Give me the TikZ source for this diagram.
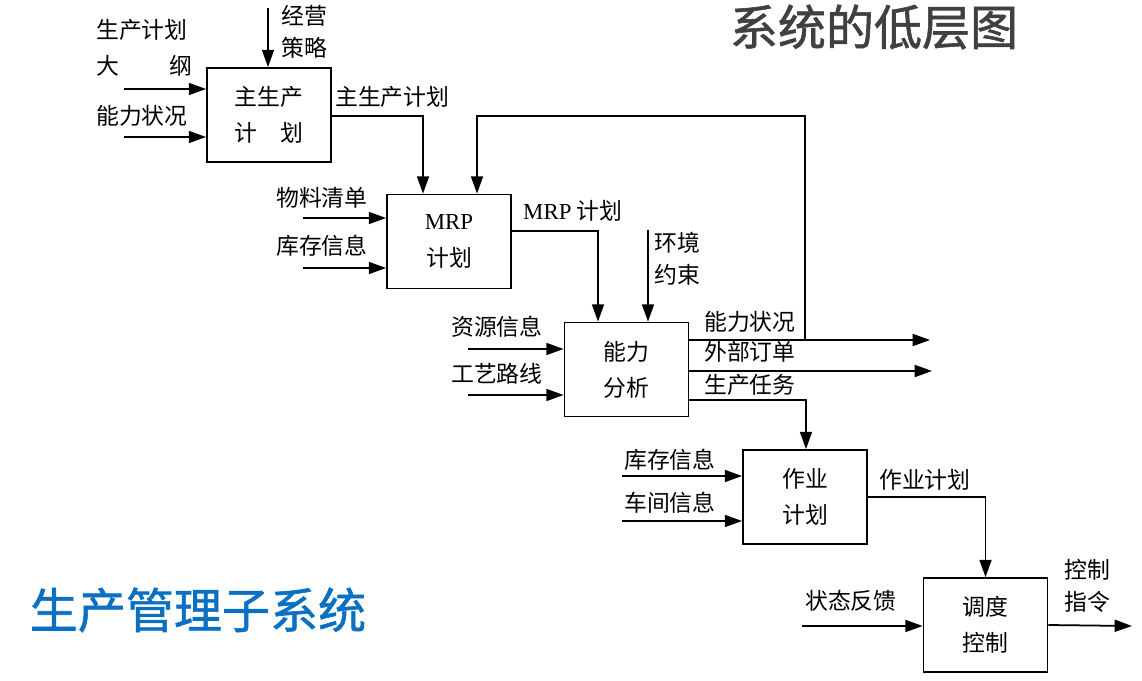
\documentclass[tikz,border=0pt]{standalone}
\usepackage{fontspec}
\setmainfont{Noto Sans CJK SC}
\newfontfamily\latin{Liberation Serif}
\newfontfamily\titlefont[FakeBold=1.2]{Noto Sans CJK SC}
\usetikzlibrary{arrows.meta,positioning,calc}
\definecolor{titlegray}{HTML}{404040}
\definecolor{titleblue}{HTML}{0B70C2}
\tikzstyle{block} = [rectangle, draw=black, line width=1.5pt, minimum width=3.72cm, minimum height=2.82cm, align=center, inner sep=0pt, font=\fontsize{19.5}{31}\selectfont]
\tikzstyle{arrow} = [line width=1.5pt, -{Triangle[length=0.52cm, width=0.36cm]}]
\tikzstyle{lbl} = [anchor=west, inner sep=0pt, align=left, font=\fontsize{19.5}{27}\selectfont]
\tikzstyle{title} = [inner sep=0pt, font=\titlefont\fontsize{41}{41}\selectfont]

\begin{document}
\begin{tikzpicture}[x=0.03cm, y=-0.03cm]
    \useasboundingbox (0,0) rectangle (1142,681);
    % titles
    \node[title, text=titlegray] (t_low) at (874,27) {系统的低层图};
    \node[title, text=titleblue] (t_sub) at (198,610) {生产管理子系统};

    % blocks
    \node[block] (mps) at (269,115) {主生产\\计　划};
    \node[block] (mrp) at (449,241.5) {{\latin MRP}\\计划};
    \node[block] (cap) at (626.5,369.5) {能力\\分析};
    \node[block] (job) at (805,497) {作业\\计划};
    \node[block] (dsp) at (985.5,625) {调度\\控制};

    % labels
    \node[lbl] (l_outline) at (96,30) {生产计划};
    \node[lbl] (l_outline2) at (96,66) {大\hspace{1.5cm}纲};
    \node[lbl] (l_capin) at (96,116) {能力状况};
    \node[lbl] (l_strat) at (281,32) {经营\\策略};
    \node[lbl] (l_mps) at (335,97) {主生产计划};
    \node[lbl] (l_bom) at (276,198) {物料清单};
    \node[lbl] (l_stock) at (276,246) {库存信息};
    \node[lbl] (l_mrp) at (523,211) {{\latin MRP} 计划};
    \node[lbl] (l_env) at (654,259) {环境\\约束};
    \node[lbl] (l_res) at (451,327) {资源信息};
    \node[lbl] (l_route) at (451,374) {工艺路线};
    \node[lbl] (l_capout) at (704,322) {能力状况};
    \node[lbl] (l_order) at (704,352) {外部订单};
    \node[lbl] (l_task) at (704,385) {生产任务};
    \node[lbl] (l_stock2) at (624,460) {库存信息};
    \node[lbl] (l_shop) at (624,503) {车间信息};
    \node[lbl] (l_job) at (879,480) {作业计划};
    \node[lbl] (l_fb) at (805,601) {状态反馈};
    \node[lbl] (l_cmd) at (1064,586) {控制\\指令};

    % free ends
    \coordinate (s1) at (124,89);
    \coordinate (s2) at (124,137);
    \coordinate (s3) at (268,8);
    \coordinate (s4) at (303,218);
    \coordinate (s5) at (303,268);
    \coordinate (s6) at (468,349);
    \coordinate (s7) at (468,395);
    \coordinate (s8) at (648,230);
    \coordinate (s9) at (622,476);
    \coordinate (s10) at (622,521);
    \coordinate (s11) at (802,626);
    \coordinate (o1) at (930,340);
    \coordinate (o2) at (932,371);
    \coordinate (o3) at (1132,626);
    \coordinate (fb) at (805,340);
    \coordinate (fbtop) at (477,116);
    \coordinate (mpsturn) at (423,116);
    \coordinate (mrpturn) at (598,231);
    \coordinate (taskturn) at (806,400);

    % inputs
    \draw[arrow] (s1) -- (s1 -| mps.west);
    \draw[arrow] (s2) -- (s2 -| mps.west);
    \draw[arrow] (s3) -- (s3 |- mps.north);
    \draw[arrow] (s4) -- (s4 -| mrp.west);
    \draw[arrow] (s5) -- (s5 -| mrp.west);
    \draw[arrow] (s6) -- (s6 -| cap.west);
    \draw[arrow] (s7) -- (s7 -| cap.west);
    \draw[arrow] (s8) -- (s8 |- cap.north);
    \draw[arrow] (s9) -- (s9 -| job.west);
    \draw[arrow] (s10) -- (s10 -| job.west);
    \draw[arrow] (s11) -- (s11 -| dsp.west);

    % flows between blocks
    \draw[arrow] (mps.east |- mpsturn) -- (mpsturn) -- (mpsturn |- mrp.north);
    \draw[arrow] (mrp.east |- mrpturn) -- (mrpturn) -- (mrpturn |- cap.north);
    \draw[arrow] (cap.east |- o1) -- (o1);
    \draw[arrow] (cap.east |- o2) -- (o2);
    \draw[arrow] (fb) |- (fbtop) -- (fbtop |- mrp.north);
    \draw[arrow] (cap.east |- taskturn) -- (taskturn) -- (taskturn |- job.north);
    \draw[arrow] (job.east) -| (dsp.north);
    \draw[arrow] (dsp.east) -- (o3);
\end{tikzpicture}
\end{document}
